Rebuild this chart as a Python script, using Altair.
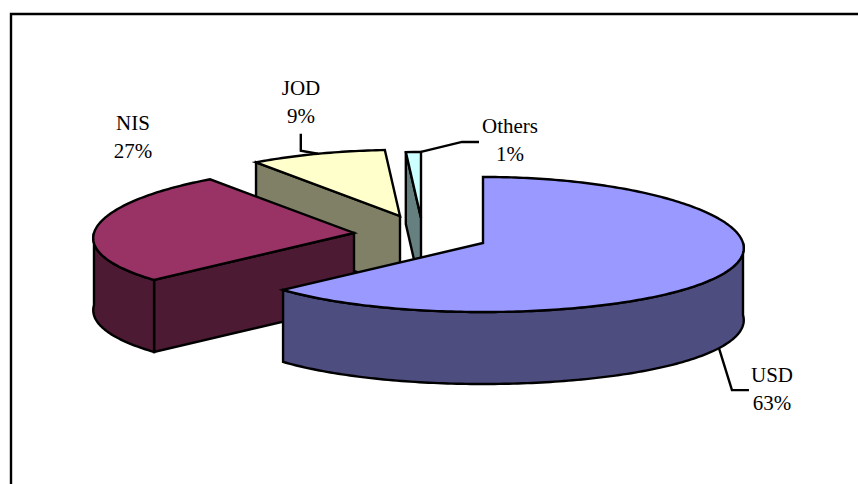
import numpy as np
import pandas as pd
import altair as alt

# Currency shares of the exploded 3-D pie
currencies = ["USD", "NIS", "JOD", "Others"]
shares = [63, 27, 9, 1]
percent_labels = ["63%", "27%", "9%", "1%"]

top_colors = ["#9999FF", "#993366", "#FFFFCC", "#CCFFFF"]
side_colors = ["#4D4D80", "#4D1A33", "#808066", "#668080"]

# Layout of the projected pie
WIDTH, HEIGHT = 858, 484
RX, RY, DEPTH = 260.0, 67.5, 72.0
PERSP_X, PERSP_Y = 0.076, 0.022
LINE = 2.4
APEX = {"USD": (483, 243), "NIS": (354, 233), "JOD": (400, 216), "Others": (421, 218)}
LABEL_POS = {"USD": (772, 382), "NIS": (133, 130), "JOD": (301, 95), "Others": (510, 133)}
LINE_GAP = 27.5
# Leader lines: where along the slice they attach, then their knees relative to that point
LEADER_ATTACH = {"USD": 0.525, "JOD": 0.5, "Others": 1.0}
LEADER_KNEES = {
    "USD": [(13, 42), (30, 42)],
    "JOD": [(-17, -3), (-17, -20)],
    "Others": [(41, -10), (58, -10)],
}


def rim(apex, theta):
    """Project a rim point; theta runs clockwise from twelve o'clock, in radians."""
    return (
        apex[0] + RX * np.sin(theta) / (1 + PERSP_X * np.cos(theta)),
        apex[1] - RY * np.cos(theta) / (1 + PERSP_Y * np.cos(theta)),
    )


def arc_points(apex, a, b):
    n = max(2, int(abs(b - a) * 60))
    return [rim(apex, t) for t in np.linspace(a, b, n)]


def drop(points):
    return [(x, y + DEPTH) for x, y in points]


def polygon_layer(points, fill):
    closed = list(points) + [points[0], points[1]]
    frame = pd.DataFrame(closed, columns=["x", "y"])
    frame["seq"] = range(len(frame))
    return (
        alt.Chart(frame)
        .mark_line(fill=fill, stroke="black", strokeWidth=LINE, strokeJoin="miter", strokeMiterLimit=4)
        .encode(x=x_enc, y=y_enc, order=alt.Order("seq:Q"))
    )


x_enc = alt.X("x:Q", scale=alt.Scale(domain=[0, WIDTH], range=[0, WIDTH], nice=False, zero=False), axis=None)
y_enc = alt.Y("y:Q", scale=alt.Scale(domain=[0, HEIGHT], range=[0, HEIGHT], nice=False, zero=False), axis=None)

# Cumulative slice angles, clockwise from the top
edges = np.concatenate([[0], np.cumsum(shares)]) / sum(shares) * 2 * np.pi
spans = {name: (edges[i], edges[i + 1]) for i, name in enumerate(currencies)}
top = dict(zip(currencies, top_colors))
side = dict(zip(currencies, side_colors))

layers = []

# Outer frame, running off the right and bottom edges
frame_df = pd.DataFrame({"x": [11, 11, WIDTH + 5], "y": [HEIGHT + 5, 14, 14], "seq": [0, 1, 2]})
layers.append(
    alt.Chart(frame_df)
    .mark_line(color="black", strokeWidth=LINE, clip=True)
    .encode(x=x_enc, y=y_enc, order=alt.Order("seq:Q"))
)

# Slices are painted back to front
for name in ["Others", "JOD"]:
    a, b = spans[name]
    apex = APEX[name]
    start = rim(apex, a)
    layers.append(polygon_layer([apex, start, (start[0], start[1] + DEPTH), (apex[0], apex[1] + DEPTH)], side[name]))
    layers.append(polygon_layer([apex] + arc_points(apex, a, b), top[name]))

a, b = spans["NIS"]
apex = APEX["NIS"]
start = rim(apex, a)
layers.append(polygon_layer([apex, start, (start[0], start[1] + DEPTH), (apex[0], apex[1] + DEPTH)], side["NIS"]))
visible = arc_points(apex, a, 1.5 * np.pi)
layers.append(polygon_layer(visible + drop(visible)[::-1], side["NIS"]))
layers.append(polygon_layer([apex] + arc_points(apex, a, b), top["NIS"]))

a, b = spans["USD"]
apex = APEX["USD"]
visible = arc_points(apex, 0.5 * np.pi, b)
layers.append(polygon_layer(visible + drop(visible)[::-1], side["USD"]))
layers.append(polygon_layer([apex] + arc_points(apex, a, b), top["USD"]))

# Leader lines
for name, knees in LEADER_KNEES.items():
    a, b = spans[name]
    ax, ay = rim(APEX[name], a + (b - a) * LEADER_ATTACH[name])
    if name == "USD":
        ay += DEPTH
    pts = [(ax, ay)] + [(ax + dx, ay + dy) for dx, dy in knees]
    leader = pd.DataFrame(pts, columns=["x", "y"])
    leader["seq"] = range(len(leader))
    layers.append(
        alt.Chart(leader)
        .mark_line(color="black", strokeWidth=LINE)
        .encode(x=x_enc, y=y_enc, order=alt.Order("seq:Q"))
    )

# Two-line labels: currency name over its percentage
rows = []
for name, pct in zip(currencies, percent_labels):
    x, y = LABEL_POS[name]
    rows.append({"x": x, "y": y, "label": name})
    rows.append({"x": x, "y": y + LINE_GAP, "label": pct})
layers.append(
    alt.Chart(pd.DataFrame(rows))
    .mark_text(font="Liberation Serif", fontSize=21, color="black", align="center", baseline="alphabetic")
    .encode(x=x_enc, y=y_enc, text="label:N")
)

chart = (
    alt.layer(*layers)
    .properties(width=WIDTH, height=HEIGHT, padding=0, background="white", autosize=alt.AutoSizeParams(type="none"))
    .configure_view(stroke=None)
)

chart.save("out.html", embed_options={"renderer": "svg", "actions": False})
